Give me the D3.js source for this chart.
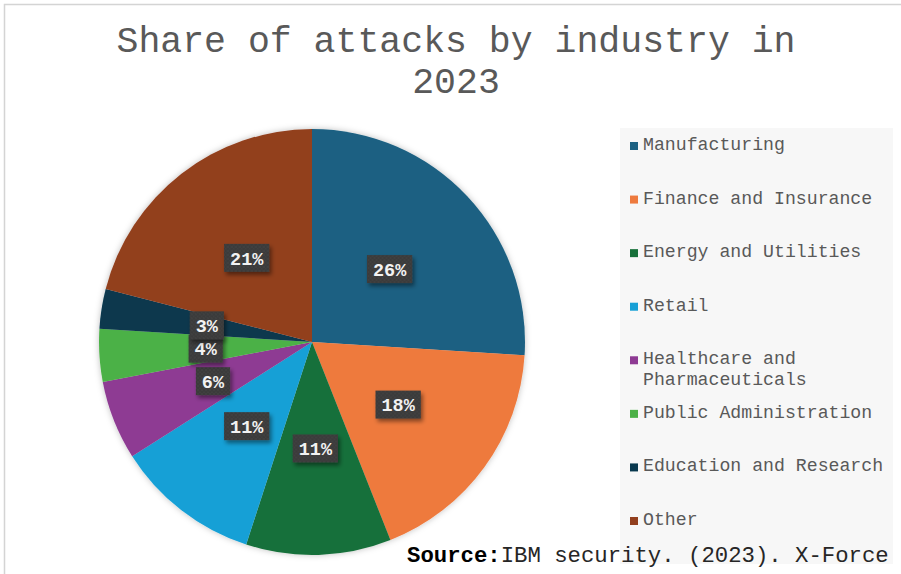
<!DOCTYPE html>
<html>
<head>
<meta charset="utf-8">
<script src="https://cdn.jsdelivr.net/npm/d3@7"></script>
<style>
  html, body { margin: 0; padding: 0; background: #ffffff; }
  svg { display: block; }
  text { font-family: "Courier New", "Liberation Mono", monospace; }
</style>
</head>
<body>
<svg id="chart" width="901" height="574"></svg>
<script>
// Share of attacks by industry (percent)
const industries = [
  "Manufacturing",
  "Finance and Insurance",
  "Energy and Utilities",
  "Retail",
  "Healthcare and Pharmaceuticals",
  "Public Administration",
  "Education and Research",
  "Other"
];
const shares = [26, 18, 11, 11, 6, 4, 3, 21];
const legendLines = [
  ["Manufacturing"],
  ["Finance and Insurance"],
  ["Energy and Utilities"],
  ["Retail"],
  ["Healthcare and", "Pharmaceuticals"],
  ["Public Administration"],
  ["Education and Research"],
  ["Other"]
];
const sliceColors = ["#1c6182", "#ee7a3e", "#17703a", "#17a0d6", "#8e3a93", "#4cb147", "#08384e", "#923f1e"];
const titleLines = ["Share of attacks by industry in", "2023"];
const sourceLabel = "Source:";
const sourceText = "IBM security. (2023). X-Force";

const data = industries.map((name, i) => ({ name, value: shares[i], lines: legendLines[i] }));

const svg = d3.select("#chart");
const defs = svg.append("defs");

// soft halo round the pie
const pieShadow = defs.append("filter").attr("id", "pieShadow")
  .attr("x", "-10%").attr("y", "-10%").attr("width", "120%").attr("height", "120%");
pieShadow.append("feDropShadow").attr("dx", 0).attr("dy", 0)
  .attr("stdDeviation", 3).attr("flood-color", "#000").attr("flood-opacity", 0.25);

// drop shadow under the value boxes
const boxShadow = defs.append("filter").attr("id", "boxShadow")
  .attr("x", "-30%").attr("y", "-30%").attr("width", "170%").attr("height", "190%");
boxShadow.append("feDropShadow").attr("dx", 2).attr("dy", 3)
  .attr("stdDeviation", 2).attr("flood-color", "#000").attr("flood-opacity", 0.45);

// dotted texture for the value boxes
const dots = defs.append("pattern").attr("id", "dots")
  .attr("width", 4).attr("height", 4).attr("patternUnits", "userSpaceOnUse");
dots.append("rect").attr("width", 4).attr("height", 4).attr("fill", "#3a3a3a");
dots.append("circle").attr("cx", 1).attr("cy", 1).attr("r", 0.8).attr("fill", "#4a4a4a");
dots.append("circle").attr("cx", 3).attr("cy", 3).attr("r", 0.8).attr("fill", "#444444");

// chart frame
svg.append("rect")
  .attr("x", 4.5).attr("y", 4.5).attr("width", 920).attr("height", 600)
  .attr("fill", "#ffffff").attr("stroke", "#d4d4d4").attr("stroke-width", 1.5);

// title
svg.append("text")
  .attr("x", 456).attr("y", 52)
  .attr("text-anchor", "middle")
  .attr("font-size", 36.5)
  .attr("fill", "#595959")
  .selectAll("tspan")
  .data(titleLines)
  .join("tspan")
  .attr("x", 456)
  .attr("dy", (d, i) => i === 0 ? 0 : 41)
  .text(d => d);

// legend panel
const legendX = 620, legendY = 128;
svg.append("rect")
  .attr("x", legendX).attr("y", legendY)
  .attr("width", 273).attr("height", 436)
  .attr("fill", "#f7f7f7");

const legendScale = d3.scaleLinear().domain([0, data.length - 1]).range([150, 525]);
const legend = svg.append("g");
const item = legend.selectAll("g.item")
  .data(data)
  .join("g")
  .attr("class", "item")
  .attr("transform", (d, i) => `translate(0,${legendScale(i)})`);

item.append("rect")
  .attr("x", 630).attr("y", -8)
  .attr("width", 8).attr("height", 8)
  .attr("fill", (d, i) => sliceColors[i]);

item.append("text")
  .attr("font-size", 18.2)
  .attr("fill", "#595959")
  .selectAll("tspan")
  .data(d => d.lines)
  .join("tspan")
  .attr("x", 643)
  .attr("y", (d, i) => i * 21)
  .text(d => d);

// pie
const cx = 312, cy = 342, radius = 213;
const pie = d3.pie().sort(null).value(d => d.value);
const arcs = pie(data);
const arc = d3.arc().innerRadius(0).outerRadius(radius);

const pieGroup = svg.append("g").attr("transform", `translate(${cx},${cy})`);
pieGroup.append("g")
  .attr("filter", "url(#pieShadow)")
  .selectAll("path")
  .data(arcs)
  .join("path")
  .attr("d", arc)
  .attr("fill", (d, i) => sliceColors[i]);

// value labels at each slice centroid
const labelFont = 18.5;
const labelPad = 6;
const labels = pieGroup.append("g")
  .selectAll("g")
  .data(arcs)
  .join("g")
  .attr("transform", d => {
    const [x, y] = arc.centroid(d);
    return `translate(${x},${y})`;
  });

const boxWidth = d => (String(d.data.value).length + 1) * labelFont * 0.6 + 2 * labelPad;

labels.append("rect")
  .attr("x", d => -boxWidth(d) / 2)
  .attr("y", -14)
  .attr("width", boxWidth)
  .attr("height", 28)
  .attr("fill", "url(#dots)")
  .attr("filter", "url(#boxShadow)");

labels.append("text")
  .attr("text-anchor", "middle")
  .attr("dy", "0.36em")
  .attr("font-size", labelFont)
  .attr("font-weight", "bold")
  .attr("fill", "#f2f2f2")
  .text(d => d.data.value + "%");

// source line
const source = svg.append("text")
  .attr("x", 407).attr("y", 562)
  .attr("font-size", 22.3)
  .attr("fill", "#262626");
source.append("tspan").attr("font-weight", "bold").attr("fill", "#000").text(sourceLabel);
source.append("tspan").text(sourceText);
</script>
</body>
</html>
